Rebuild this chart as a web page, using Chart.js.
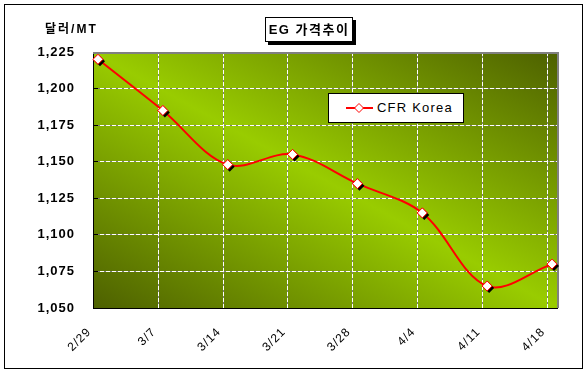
<!DOCTYPE html>
<html>
<head>
<meta charset="utf-8">
<script src="https://cdn.jsdelivr.net/npm/chart.js@4"></script>
<style>
html,body{margin:0;padding:0;background:#fff;}
#wrap{position:relative;width:588px;height:377px;overflow:hidden;background:#fff;}
#frame{position:absolute;left:4px;top:4px;width:579px;height:365px;border:1px solid #000;box-sizing:border-box;}
#c{position:absolute;left:0;top:0;}
#title{position:absolute;left:265px;top:17px;width:88px;height:25px;box-sizing:border-box;border:1px solid #000;box-shadow:3px 3px 0 #000;background:#fff;
  font:bold 13px "Liberation Sans","Noto Sans CJK KR",sans-serif;letter-spacing:1.5px;text-align:center;line-height:23px;color:#000;white-space:nowrap;}
#unit{position:absolute;left:45px;top:21px;font:bold 12px "Liberation Sans","Noto Sans CJK KR",sans-serif;letter-spacing:2px;color:#000;white-space:nowrap;line-height:16px;}
#legend{position:absolute;left:328px;top:93px;width:136px;height:30px;box-sizing:border-box;border:1px solid #000;background:#fff;}
#legend svg{position:absolute;left:16px;top:8px;}
#legend span{position:absolute;left:48px;top:6px;font:13px "Liberation Sans",Arial,sans-serif;letter-spacing:1.2px;color:#000;line-height:16px;white-space:nowrap;}
</style>
</head>
<body>
<div id="wrap">
  <div id="frame"></div>
  <canvas id="c" width="588" height="377"></canvas>
  <div id="title"></div>
  <div id="unit"></div>
  <div id="legend">
    <svg width="30" height="12"><line x1="1" y1="6" x2="28" y2="6" stroke="#ff0000" stroke-width="2"/><polygon points="14,1.5 18.5,6 14,10.5 9.5,6" fill="#fff" stroke="#ff0000" stroke-width="1"/></svg>
    <span id="legendText"></span>
  </div>
</div>
<script>
// ---- data ----
const CATEGORIES = ['2/29', '3/7', '3/14', '3/21', '3/28', '4/4', '4/11', '4/18'];
const CFR_KOREA = [1220, 1185, 1148, 1155, 1135, 1115, 1065, 1080];
const SERIES_NAME = 'CFR Korea';
const Y_TICKS = [1050, 1075, 1100, 1125, 1150, 1175, 1200, 1225];
const TITLE_TEXT = 'EG 가격추이';
const UNIT_TEXT = '달러/MT';

// ---- styling constants ----
const FONT = '"Liberation Sans", Arial, sans-serif';
const LIGHT = '#99cc00';
const DARK = '#4d6000';
const X_PAD = 0.077;      // axis extends a little beyond first/last category
const TICK_SHIFT = 0.072; // gridlines sit slightly left of the points

document.getElementById('title').textContent = TITLE_TEXT;
document.getElementById('unit').textContent = UNIT_TEXT;
document.getElementById('legendText').textContent = SERIES_NAME;

const points = CFR_KOREA.map((v, i) => ({x: i, y: v}));

const decor = {
  id: 'decor',
  beforeDraw(chart) {
    const {ctx, chartArea: a, scales: {x, y}} = chart;
    const w = a.right - a.left, h = a.bottom - a.top;
    const cx = (a.left + a.right) / 2, cy = (a.top + a.bottom) / 2;
    const len = Math.hypot(w, h);
    const nx = h / len, ny = -w / len;
    const ext = w * h / len;
    ctx.save();
    const g = ctx.createLinearGradient(cx - ext * nx, cy - ext * ny, cx + ext * nx, cy + ext * ny);
    g.addColorStop(0, DARK);
    g.addColorStop(0.5, LIGHT);
    g.addColorStop(1, DARK);
    ctx.fillStyle = g;
    ctx.fillRect(a.left, a.top, w, h);
    // gray base of the dashed grid lines
    ctx.strokeStyle = '#808080';
    ctx.lineWidth = 1;
    ctx.beginPath();
    x.ticks.forEach((t, i) => {
      if (i === 0) return;
      const px = Math.round(x.getPixelForValue(t.value) - 0.5) + 0.5;
      ctx.moveTo(px, a.top); ctx.lineTo(px, a.bottom);
    });
    y.ticks.forEach((t, i) => {
      if (i === 0 || i === y.ticks.length - 1) return;
      const py = Math.round(y.getPixelForValue(t.value) - 0.5) + 0.5;
      ctx.moveTo(a.left, py); ctx.lineTo(a.right, py);
    });
    ctx.stroke();
    ctx.restore();
    ctx.letterSpacing = '1px';
  },
  beforeDatasetsDraw(chart) {
    const {ctx, chartArea: a, scales: {y}} = chart;
    ctx.save();
    ctx.letterSpacing = '0px';
    ctx.strokeStyle = '#808080';
    ctx.lineWidth = 2;
    ctx.beginPath();
    ctx.moveTo(a.left, a.top + 1); ctx.lineTo(a.right + 1, a.top + 1);
    ctx.moveTo(a.right + 1, a.top); ctx.lineTo(a.right + 1, a.bottom);
    ctx.stroke();
    ctx.strokeStyle = '#000';
    ctx.lineWidth = 1;
    ctx.beginPath();
    y.ticks.forEach((t, i) => {
      if (i === 0 || i === y.ticks.length - 1) return;
      const py = Math.round(y.getPixelForValue(t.value) - 0.5) + 0.5;
      ctx.moveTo(a.left, py); ctx.lineTo(a.left + 5, py);
    });
    ctx.stroke();
    ctx.restore();
  },
  afterDatasetsDraw(chart) {
    const {ctx} = chart;
    const meta = chart.getDatasetMeta(0);
    ctx.save();
    ctx.fillStyle = '#000';
    meta.data.forEach(pt => {
      Chart.helpers.drawPoint(ctx, {pointStyle: 'rectRot', radius: 5, borderWidth: 0, rotation: 0}, pt.x + 2, pt.y + 2);
    });
    ctx.restore();
    meta.data.forEach(pt => pt.draw(ctx, chart.chartArea));
  },
  afterDraw(chart) {
    chart.ctx.letterSpacing = '0px';
  }
};

new Chart(document.getElementById('c'), {
  type: 'line',
  data: {
    datasets: [{
      label: SERIES_NAME,
      data: points,
      borderColor: '#ff0000',
      borderWidth: 2,
      tension: 0.35,
      fill: false,
      pointStyle: 'rectRot',
      pointRadius: 5,
      pointBackgroundColor: '#ffffff',
      pointBorderColor: '#ff0000',
      pointBorderWidth: 1
    }]
  },
  options: {
    responsive: false,
    animation: false,
    devicePixelRatio: 1,
    layout: {padding: {top: 52, right: 31, left: 0, bottom: 0}, autoPadding: false},
    plugins: {legend: {display: false}, title: {display: false}, tooltip: {enabled: false}},
    scales: {
      x: {
        type: 'linear',
        min: -X_PAD,
        max: CATEGORIES.length - 1 + X_PAD,
        afterBuildTicks: s => { s.ticks = CATEGORIES.map((c, i) => ({value: i - TICK_SHIFT})); },
        afterFit: s => { s.height = 69; },
        ticks: {
          autoSkip: false, minRotation: 45, maxRotation: 45, padding: 17, labelOffset: -4,
          color: '#000', font: {family: FONT, size: 12},
          callback: (v, i) => CATEGORIES[i]
        },
        grid: {color: c => c.index === 0 ? 'rgba(0,0,0,0)' : '#ffffff', drawTicks: false, lineWidth: 1},
        border: {color: '#000', width: 1, dash: [4, 2]}
      },
      y: {
        min: Y_TICKS[0],
        max: Y_TICKS[Y_TICKS.length - 1],
        afterBuildTicks: s => { s.ticks = Y_TICKS.map(v => ({value: v})); },
        afterFit: s => { s.width = 93; },
        ticks: {
          padding: 18, color: '#000', font: {family: FONT, size: 13, weight: 'bold'},
          callback: v => v.toLocaleString('en-US')
        },
        grid: {color: c => (c.index === 0 || c.index === Y_TICKS.length - 1) ? 'rgba(0,0,0,0)' : '#ffffff', drawTicks: false, lineWidth: 1},
        border: {color: '#000', width: 1, dash: [4, 2]}
      }
    }
  },
  plugins: [decor]
});
</script>
</body>
</html>
